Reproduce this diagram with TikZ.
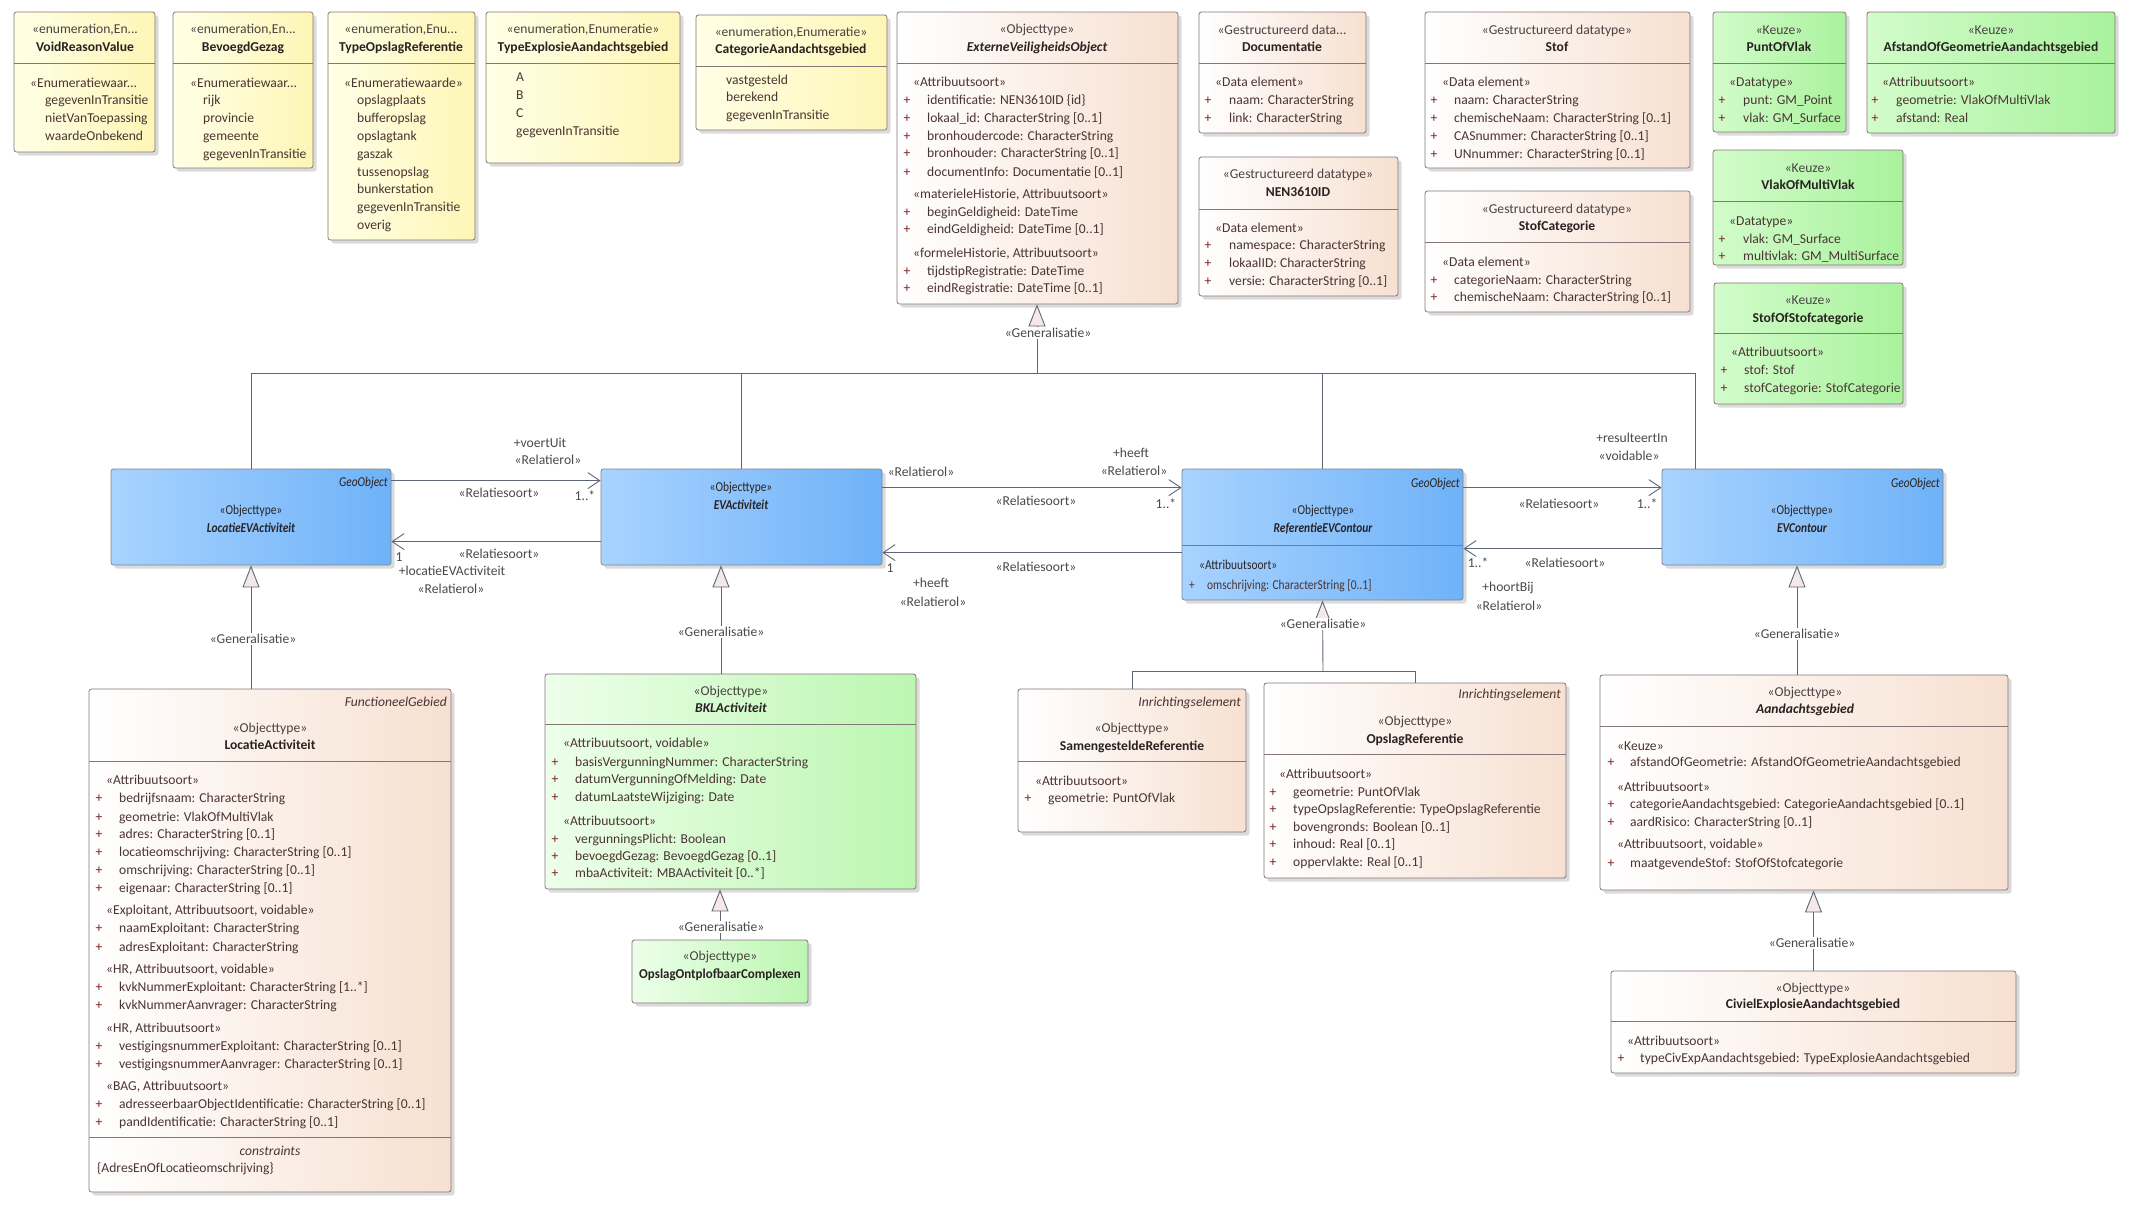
\documentclass[tikz,border=0pt]{standalone}
\usepackage{fontspec}
\setmainfont{Carlito}
\newfontfamily\condf[FakeStretch=0.84]{Carlito}
\newfontfamily\semif[FakeStretch=0.95]{Carlito}
\usetikzlibrary{arrows.meta,shadows,calc,fit}
\definecolor{linec}{HTML}{5D6679}
\definecolor{boxc}{HTML}{85767A}
\definecolor{attrc}{HTML}{4B3434}
\definecolor{plusc}{HTML}{7A1F1F}
\definecolor{namec}{HTML}{2A2222}
\definecolor{lblc}{HTML}{4A4A4A}
\definecolor{trifill}{HTML}{F4E9E7}
\definecolor{yelL}{HTML}{FFFFE6}
\definecolor{yelR}{HTML}{FDF6B6}
\definecolor{peaL}{HTML}{FFFFFF}
\definecolor{peaR}{HTML}{F7E0D1}
\definecolor{bluL}{HTML}{A8D3FF}
\definecolor{bluR}{HTML}{6FB2F8}
\definecolor{grnL}{HTML}{EDFFEA}
\definecolor{grnR}{HTML}{BCF6B1}
\definecolor{keuL}{HTML}{D2FCCA}
\definecolor{keuR}{HTML}{A9F29D}
\newcommand\fsz{\fontsize{13.6}{16}\selectfont}
\newcounter{tn}
\newcommand\tln[3]{\stepcounter{tn}\edef\tnm{t\arabic{tn}}\node[txt,#1] (\tnm) at (#2) {#3};}
\newcommand\atr[4]{\tln{plus}{#1,#3}{+}\tln{}{#2,#3}{#4}}
\newcommand\ubox[7]{\node[box,#2,fit={(#3,#4) (#5,#6)}] (#1) {};
  \ifx\relax#7\relax\else\draw[sepl] (#3,#7) -- (#5,#7);\fi}
\tikzset{
  box/.style={draw=boxc, line width=0.8pt, rounded corners=2.5pt, inner sep=0pt,
    drop shadow={shadow xshift=3.5pt,shadow yshift=-3.5pt,opacity=0.28,fill=black!50}},
  enumb/.style={left color=yelL, right color=yelR},
  peab/.style={left color=peaL, right color=peaR},
  blub/.style={left color=bluL, right color=bluR, draw=linec!80},
  grnb/.style={left color=grnL, right color=grnR},
  keub/.style={left color=keuL, right color=keuR},
  sepl/.style={draw=boxc, line width=0.8pt},
  txt/.style={anchor=base west, inner sep=0pt, yshift=-4.6pt, font=\fsz, text=attrc},
  plus/.style={anchor=base, text=plusc},
  ctr/.style={anchor=base, text=namec!85},
  rgt/.style={anchor=base east},
  hb/.style={font=\fsz\bfseries, text=namec},
  hbi/.style={font=\fsz\bfseries\itshape, text=namec},
  itl/.style={font=\fsz\itshape, text=attrc},
  cnd/.style={font=\condf\fsz, text=namec},
  cndbi/.style={font=\condf\fsz\bfseries\itshape, text=namec},
  cndi/.style={font=\condf\fsz\itshape, text=namec},
  cnda/.style={font=\condf\fsz, text=attrc},
  conn/.style={draw=linec, line width=0.9pt},
  gen/.style={conn, -{Triangle[length=22pt,width=17pt,fill=trifill]}},
  assoc/.style={conn, -{Straight Barb[length=12pt,width=16pt]}},
  lbl/.style={font=\fsz, text=lblc, inner sep=0.5pt},
  glbl/.style={lbl, fill=white, inner sep=1.5pt},
}
\begin{document}
\begin{tikzpicture}[x=1pt,y=-1pt]
\fill[white] (0,0) rectangle (2134,1208);
\useasboundingbox (0,0) rectangle (2134,1208);

\coordinate (evoJ) at (1037,373);
\coordinate (evcJ) at (1695,373);
\coordinate (refJ) at (1323,671);
\coordinate (g2) at (721,0);
\coordinate (g5) at (1797,0);

% ---------- enumerations ----------
\ubox{vrv}{enumb}{14}{12}{155}{152}{63}
\tln{ctr}{85,29}{«enumeration,En...}
\tln{ctr,hb}{85,47}{VoidReasonValue}
\tln{}{30,83}{«Enumeratiewaar...}
\tln{}{45,100}{gegevenInTransitie}
\tln{}{45,118}{nietVanToepassing}
\tln{}{45,136}{waardeOnbekend}

\ubox{bgz}{enumb}{173}{12}{313}{168}{63}
\tln{ctr}{243,29}{«enumeration,En...}
\tln{ctr,hb}{243,47}{BevoegdGezag}
\tln{}{190,83}{«Enumeratiewaar...}
\tln{}{203,100}{rijk}
\tln{}{203,118}{provincie}
\tln{}{203,136}{gemeente}
\tln{}{203,154}{gegevenInTransitie}

\ubox{tor}{enumb}{328}{12}{475}{240}{63}
\tln{ctr}{401,29}{«enumeration,Enu...}
\tln{ctr,hb}{401,47}{TypeOpslagReferentie}
\tln{}{344,83}{«Enumeratiewaarde»}
\tln{}{357,100}{opslagplaats}
\tln{}{357,118}{bufferopslag}
\tln{}{357,136}{opslagtank}
\tln{}{357,154}{gaszak}
\tln{}{357,172}{tussenopslag}
\tln{}{357,189}{bunkerstation}
\tln{}{357,207}{gegevenInTransitie}
\tln{}{357,225}{overig}

\ubox{tea}{enumb}{486}{12}{680}{163}{63}
\tln{ctr}{583,29}{«enumeration,Enumeratie»}
\tln{ctr,hb}{583,47}{TypeExplosieAandachtsgebied}
\tln{}{516,77}{A}
\tln{}{516,95}{B}
\tln{}{516,113}{C}
\tln{}{516,131}{gegevenInTransitie}

\ubox{cag}{enumb}{696}{15}{887}{130}{66}
\tln{ctr}{791,32}{«enumeration,Enumeratie»}
\tln{ctr,hb}{791,49}{CategorieAandachtsgebied}
\tln{}{726,80}{vastgesteld}
\tln{}{726,97}{berekend}
\tln{}{726,115}{gegevenInTransitie}

% ---------- ExterneVeiligheidsObject ----------
\ubox{evo}{peab}{897}{12}{1178}{304}{63}
\tln{ctr}{1037,29}{«Objecttype»}
\tln{ctr,hbi}{1037,47}{ExterneVeiligheidsObject}
\tln{}{913,82}{«Attribuutsoort»}
\atr{907}{927}{100}{identificatie: NEN3610ID \{id\}}
\atr{907}{927}{118}{lokaal\_id: CharacterString [0..1]}
\atr{907}{927}{136}{bronhoudercode: CharacterString}
\atr{907}{927}{153}{bronhouder: CharacterString [0..1]}
\atr{907}{927}{172}{documentInfo: Documentatie [0..1]}
\tln{}{913,194}{«materieleHistorie, Attribuutsoort»}
\atr{907}{927}{212}{beginGeldigheid: DateTime}
\atr{907}{927}{229}{eindGeldigheid: DateTime [0..1]}
\tln{}{913,253}{«formeleHistorie, Attribuutsoort»}
\atr{907}{927}{271}{tijdstipRegistratie: DateTime}
\atr{907}{927}{288}{eindRegistratie: DateTime [0..1]}

% ---------- datatypes ----------
\ubox{doc}{peab}{1199}{12}{1366}{133}{63}
\tln{ctr}{1282,30}{«Gestructureerd data...}
\tln{ctr,hb}{1282,47}{Documentatie}
\tln{}{1215,82}{«Data element»}
\atr{1208}{1229}{100}{naam: CharacterString}
\atr{1208}{1229}{118}{link: CharacterString}

\ubox{nen}{peab}{1199}{157}{1398}{296}{209}
\tln{ctr}{1298,174}{«Gestructureerd datatype»}
\tln{ctr,hb}{1298,192}{NEN3610ID}
\tln{}{1215,228}{«Data element»}
\atr{1208}{1229}{245}{namespace: CharacterString}
\atr{1208}{1229}{263}{lokaalID: CharacterString}
\atr{1208}{1229}{281}{versie: CharacterString [0..1]}

\ubox{stof}{peab}{1425}{12}{1690}{168}{63}
\tln{ctr}{1557,30}{«Gestructureerd datatype»}
\tln{ctr,hb}{1557,47}{Stof}
\tln{}{1442,82}{«Data element»}
\atr{1434}{1454}{100}{naam: CharacterString}
\atr{1434}{1454}{118}{chemischeNaam: CharacterString [0..1]}
\atr{1434}{1454}{136}{CASnummer: CharacterString [0..1]}
\atr{1434}{1454}{154}{UNnummer: CharacterString [0..1]}

\ubox{stcat}{peab}{1425}{191}{1690}{312}{242}
\tln{ctr}{1557,209}{«Gestructureerd datatype»}
\tln{ctr,hb}{1557,226}{StofCategorie}
\tln{}{1442,262}{«Data element»}
\atr{1434}{1454}{280}{categorieNaam: CharacterString}
\atr{1434}{1454}{297}{chemischeNaam: CharacterString [0..1]}

\ubox{pov}{keub}{1713}{12}{1846}{132}{63}
\tln{ctr}{1779,30}{«Keuze»}
\tln{ctr,hb}{1779,47}{PuntOfVlak}
\tln{}{1729,82}{«Datatype»}
\atr{1722}{1743}{100}{punt: GM\_Point}
\atr{1722}{1743}{118}{vlak: GM\_Surface}

\ubox{aog}{keub}{1867}{12}{2115}{133}{63}
\tln{ctr}{1991,30}{«Keuze»}
\tln{ctr,hb}{1991,47}{AfstandOfGeometrieAandachtsgebied}
\tln{}{1882,82}{«Attribuutsoort»}
\atr{1875}{1896}{100}{geometrie: VlakOfMultiVlak}
\atr{1875}{1896}{118}{afstand: Real}

\ubox{vmv}{keub}{1713}{150}{1903}{265}{201}
\tln{ctr}{1808,168}{«Keuze»}
\tln{ctr,hb}{1808,185}{VlakOfMultiVlak}
\tln{}{1729,221}{«Datatype»}
\atr{1722}{1743}{239}{vlak: GM\_Surface}
\atr{1722}{1743}{256}{multivlak: GM\_MultiSurface}

\ubox{sos}{keub}{1714}{283}{1903}{404}{333}
\tln{ctr}{1808,300}{«Keuze»}
\tln{ctr,hb}{1808,318}{StofOfStofcategorie}
\tln{}{1731,352}{«Attribuutsoort»}
\atr{1724}{1744}{370}{stof: Stof}
\atr{1724}{1744}{388}{stofCategorie: StofCategorie}

% ---------- blue objecttypes ----------
\ubox{locEV}{blub}{111}{469}{391}{565}{}
\tln{rgt,cndi}{388,482}{GeoObject}
\tln{ctr,cnd}{251,510}{«Objecttype»}
\tln{ctr,cndbi}{251,528}{LocatieEVActiviteit}

\ubox{evAct}{blub}{601}{469}{882}{565}{}
\tln{ctr,cnd}{741,487}{«Objecttype»}
\tln{ctr,cndbi}{741,505}{EVActiviteit}

\ubox{refEV}{blub}{1182}{469}{1463}{600}{545}
\tln{rgt,cndi}{1460,483}{GeoObject}
\tln{ctr,cnd}{1323,510}{«Objecttype»}
\tln{ctr,cndbi}{1323,528}{ReferentieEVContour}
\tln{cnd}{1199,565}{«Attribuutsoort»}
\tln{plus,cnda}{1192,585}{+}
\tln{cnda}{1207,585}{omschrijving: CharacterString [0..1]}

\ubox{evC}{blub}{1662}{469}{1943}{565}{}
\tln{rgt,cndi}{1940,483}{GeoObject}
\tln{ctr,cnd}{1802,510}{«Objecttype»}
\tln{ctr,cndbi}{1802,528}{EVContour}

% ---------- LocatieActiviteit ----------
\ubox{locAct}{peab}{89}{689}{451}{1192}{761}
\draw[sepl] (89,1137) -- (451,1137);
\tln{rgt,itl}{447,702}{FunctioneelGebied}
\tln{ctr}{270,728}{«Objecttype»}
\tln{ctr,hb}{270,745}{LocatieActiviteit}
\tln{}{106,780}{«Attribuutsoort»}
\atr{99}{119}{798}{bedrijfsnaam: CharacterString}
\atr{99}{119}{817}{geometrie: VlakOfMultiVlak}
\atr{99}{119}{834}{adres: CharacterString [0..1]}
\atr{99}{119}{852}{locatieomschrijving: CharacterString [0..1]}
\atr{99}{119}{870}{omschrijving: CharacterString [0..1]}
\atr{99}{119}{888}{eigenaar: CharacterString [0..1]}
\tln{}{106,910}{«Exploitant, Attribuutsoort, voidable»}
\atr{99}{119}{928}{naamExploitant: CharacterString}
\atr{99}{119}{947}{adresExploitant: CharacterString}
\tln{}{106,969}{«HR, Attribuutsoort, voidable»}
\atr{99}{119}{987}{kvkNummerExploitant: CharacterString [1..*]}
\atr{99}{119}{1005}{kvkNummerAanvrager: CharacterString}
\tln{}{106,1028}{«HR, Attribuutsoort»}
\atr{99}{119}{1046}{vestigingsnummerExploitant: CharacterString [0..1]}
\atr{99}{119}{1064}{vestigingsnummerAanvrager: CharacterString [0..1]}
\tln{}{106,1086}{«BAG, Attribuutsoort»}
\atr{99}{119}{1104}{adresseerbaarObjectIdentificatie: CharacterString [0..1]}
\atr{99}{119}{1122}{pandIdentificatie: CharacterString [0..1]}
\tln{ctr,itl}{270,1151}{constraints}
\tln{}{97,1168}{\{AdresEnOfLocatieomschrijving\}}

% ---------- BKLActiviteit ----------
\ubox{bkl}{grnb}{545}{674}{916}{889}{724}
\tln{ctr}{731,691}{«Objecttype»}
\tln{ctr,hbi}{731,708}{BKLActiviteit}
\tln{}{563,743}{«Attribuutsoort, voidable»}
\atr{555}{575}{762}{basisVergunningNummer: CharacterString}
\atr{555}{575}{779}{datumVergunningOfMelding: Date}
\atr{555}{575}{797}{datumLaatsteWijziging: Date}
\tln{}{563,821}{«Attribuutsoort»}
\atr{555}{575}{839}{vergunningsPlicht: Boolean}
\atr{555}{575}{856}{bevoegdGezag: BevoegdGezag [0..1]}
\atr{555}{575}{873}{mbaActiviteit: MBAActiviteit [0..*]}

\ubox{opc}{grnb}{632}{940}{808}{1003}{}
\tln{ctr}{720,956}{«Objecttype»}
\tln{ctr,hb,font=\semif\fsz\bfseries}{720,974}{OpslagOntplofbaarComplexen}

% ---------- Referenties ----------
\ubox{samRef}{peab}{1018}{689}{1246}{832}{761}
\tln{rgt,itl}{1241,702}{Inrichtingselement}
\tln{ctr}{1132,728}{«Objecttype»}
\tln{ctr,hb}{1132,746}{SamengesteldeReferentie}
\tln{}{1035,781}{«Attribuutsoort»}
\atr{1028}{1048}{798}{geometrie: PuntOfVlak}

\ubox{opsRef}{peab}{1264}{683}{1566}{878}{754}
\tln{rgt,itl}{1561,694}{Inrichtingselement}
\tln{ctr}{1415,721}{«Objecttype»}
\tln{ctr,hb}{1415,739}{OpslagReferentie}
\tln{}{1279,774}{«Attribuutsoort»}
\atr{1273}{1293}{792}{geometrie: PuntOfVlak}
\atr{1273}{1293}{809}{typeOpslagReferentie: TypeOpslagReferentie}
\atr{1273}{1293}{827}{bovengronds: Boolean [0..1]}
\atr{1273}{1293}{844}{inhoud: Real [0..1]}
\atr{1273}{1293}{862}{oppervlakte: Real [0..1]}

% ---------- Aandachtsgebied ----------
\ubox{aand}{peab}{1600}{675}{2008}{890}{726}
\tln{ctr}{1805,692}{«Objecttype»}
\tln{ctr,hbi}{1805,709}{Aandachtsgebied}
\tln{}{1617,746}{«Keuze»}
\atr{1611}{1630}{762}{afstandOfGeometrie: AfstandOfGeometrieAandachtsgebied}
\tln{}{1617,787}{«Attribuutsoort»}
\atr{1611}{1630}{804}{categorieAandachtsgebied: CategorieAandachtsgebied [0..1]}
\atr{1611}{1630}{822}{aardRisico: CharacterString [0..1]}
\tln{}{1617,844}{«Attribuutsoort, voidable»}
\atr{1611}{1630}{863}{maatgevendeStof: StofOfStofcategorie}

\ubox{civ}{peab}{1611}{971}{2016}{1073}{1021}
\tln{ctr}{1813,988}{«Objecttype»}
\tln{ctr,hb}{1813,1004}{CivielExplosieAandachtsgebied}
\tln{}{1627,1041}{«Attribuutsoort»}
\atr{1621}{1640}{1058}{typeCivExpAandachtsgebied: TypeExplosieAandachtsgebied}

% ---------- generalisations ----------
\draw[gen] (evoJ) -- (evoJ |- evo.south);
\draw[conn] (locEV.north) |- (evcJ) -- (evcJ |- evC.north);
\draw[conn] (evAct.north) -- (evAct.north |- evoJ);
\draw[conn] (refEV.north) -- (refEV.north |- evoJ);
\node[glbl] (gl1) at (1048,333) {«Generalisatie»};

\draw[gen] (locEV.south |- locAct.north) -- (locEV.south);
\node[glbl] (gl2) at (253,639) {«Generalisatie»};
\draw[gen] (g2 |- bkl.north) -- (g2 |- evAct.south);
\node[glbl] (gl3) at (721,632) {«Generalisatie»};
\draw[gen] (refJ) -- (refEV.south);
\draw[conn] (samRef.north) |- (refJ) -| (opsRef.north);
\node[glbl] (gl4) at (1323,624) {«Generalisatie»};
\draw[gen] (g5 |- aand.north) -- (g5 |- evC.south);
\node[glbl] (gl5) at (1797,634) {«Generalisatie»};
\draw[gen] (opc.north) -- (opc.north |- bkl.south);
\node[glbl] (gl6) at (721,927) {«Generalisatie»};
\draw[gen] (civ.north) -- (civ.north |- aand.south);
\node[glbl] (gl7) at (1812,943) {«Generalisatie»};

% ---------- associations ----------
\draw[assoc] ($(locEV.north east)+(0,12)$) -- ($(evAct.north west)+(0,12)$);
\draw[assoc] ($(evAct.north west)+(0,73)$) -- ($(locEV.north east)+(0,73)$);
\draw[assoc] ($(evAct.north east)+(0,19)$) -- ($(refEV.north west)+(0,19)$);
\draw[assoc] ($(refEV.north west)+(0,84)$) -- ($(evAct.north east)+(0,84)$);
\draw[assoc] ($(refEV.north east)+(0,19)$) -- ($(evC.north west)+(0,19)$);
\draw[assoc] ($(evC.north west)+(0,80)$) -- ($(refEV.north east)+(0,80)$);

\node[lbl] (l1) at (540,443) {+voertUit};
\node[lbl] (l2) at (548,460) {«Relatierol»};
\node[lbl] (l3) at (499,493) {«Relatiesoort»};
\node[lbl] (l4) at (585,496) {1..*};
\node[lbl] (l5) at (399,557) {1};
\node[lbl] (l6) at (499,554) {«Relatiesoort»};
\node[lbl] (l7) at (452,571) {+locatieEVActiviteit};
\node[lbl] (l8) at (451,589) {«Relatierol»};
\node[lbl] (l9) at (921,472) {«Relatierol»};
\node[lbl] (l10) at (1131,453) {+heeft};
\node[lbl] (l11) at (1134,471) {«Relatierol»};
\node[lbl] (l12) at (1036,501) {«Relatiesoort»};
\node[lbl] (l13) at (1166,504) {1..*};
\node[lbl] (l14) at (890,568) {1};
\node[lbl] (l15) at (1036,567) {«Relatiesoort»};
\node[lbl] (l16) at (931,583) {+heeft};
\node[lbl] (l17) at (933,602) {«Relatierol»};
\node[lbl] (l18) at (1632,438) {+resulteertIn};
\node[lbl] (l19) at (1629,456) {«voidable»};
\node[lbl] (l20) at (1559,504) {«Relatiesoort»};
\node[lbl] (l21) at (1647,504) {1..*};
\node[lbl] (l22) at (1478,563) {1..*};
\node[lbl] (l23) at (1565,563) {«Relatiesoort»};
\node[lbl] (l24) at (1508,588) {+hoortBij};
\node[lbl] (l25) at (1509,606) {«Relatierol»};
\end{tikzpicture}
\end{document}
